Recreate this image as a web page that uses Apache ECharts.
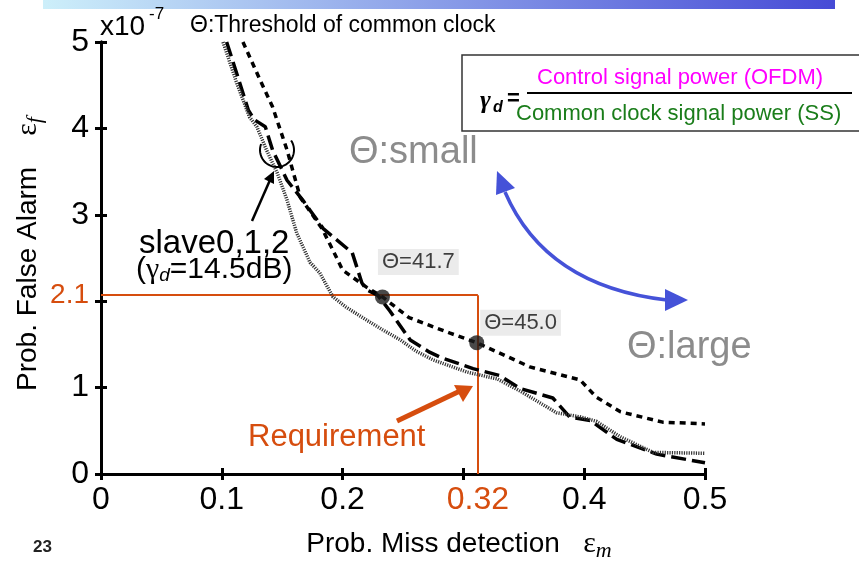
<!DOCTYPE html>
<html>
<head>
<meta charset="utf-8">
<script src="https://cdn.jsdelivr.net/npm/echarts@6/dist/echarts.min.js"></script>
<style>
html,body{margin:0;padding:0;background:#fff;}
#chart{width:859px;height:561px;}
</style>
</head>
<body>
<div id="chart"></div>
<script>
// ---- data (x: miss-detection prob., y: false-alarm prob. x1e-7) ----
const xTickValues = [0, 0.1, 0.2, 0.3, 0.4, 0.5];
const xTickLabels = ['0', '0.1', '0.2', '', '0.4', '0.5'];
const yTickValues = [0, 1, 2, 3, 4, 5];
const yTickLabels = ['0', '1', '', '3', '4', '5'];

const shortDashCurve = [
  [0.1175,5.0],[0.1217,4.87],[0.132,4.55],[0.142,4.25],[0.154,3.75],[0.165,3.20],
  [0.183,2.84],[0.192,2.59],[0.200,2.36],[0.220,2.16],[0.233,2.05],[0.255,1.81],
  [0.272,1.72],[0.289,1.63],[0.311,1.52],[0.355,1.24],[0.3965,1.09],[0.41,0.89],
  [0.43,0.72],[0.465,0.60],[0.5,0.58]
];
const longDashCurve = [
  [0.104,5.0],[0.115,4.52],[0.122,4.21],[0.127,4.10],[0.136,4.02],[0.142,3.75],
  [0.154,3.40],[0.167,3.17],[0.184,2.84],[0.208,2.56],[0.216,2.21],[0.220,2.13],
  [0.229,2.07],[0.239,1.89],[0.256,1.55],[0.272,1.41],[0.281,1.35],[0.308,1.22],
  [0.330,1.14],[0.347,0.99],[0.374,0.88],[0.388,0.66],[0.405,0.62],[0.427,0.40],
  [0.460,0.23],[0.5,0.13]
];
const fineDotCurve = [
  [0.101,5.0],[0.1125,4.52],[0.123,4.13],[0.129,4.02],[0.137,3.75],[0.146,3.48],
  [0.154,3.17],[0.162,2.79],[0.173,2.45],[0.181,2.33],[0.192,2.05],[0.203,1.93],
  [0.220,1.78],[0.233,1.67],[0.248,1.55],[0.261,1.42],[0.275,1.32],[0.303,1.18],
  [0.328,1.10],[0.347,0.96],[0.377,0.71],[0.397,0.66],[0.41,0.61],[0.43,0.43],
  [0.457,0.25],[0.5,0.24]
];
const thetaPoints = [[0.233, 2.05], [0.311, 1.52]];
const thetaLabels = ['\u0398=41.7', '\u0398=45.0'];
const reqX = 0.312, reqY = 2.07;
const reqXLabel = '0.32', reqYLabel = '2.1';

// ---- chart ----
const FONT = "'Liberation Sans', Arial, sans-serif";
const ORANGE = '#d64d0e';
const chart = echarts.init(document.getElementById('chart'), null, {renderer: 'canvas'});

const axisLineStyle = {lineStyle: {color: '#000', width: 3}};
const axisTickStyle = {inside: true, length: 6, lineStyle: {color: '#000', width: 3}};

// bracket arc around the three curves (annotation)
const bracketPts = [];
for (let a = -0.6; a <= 3.55; a += 0.1) {
  bracketPts.push([277 + 17 * Math.cos(a), 150 + 17 * Math.sin(a)]);
}

const option = {
  animation: false,
  backgroundColor: '#fff',
  grid: {left: 101, right: 154, top: 42, bottom: 87, outerBoundsMode: 'none', containLabel: false},
  xAxis: [{
    type: 'value', min: 0, max: 0.5, interval: 0.1, position: 'bottom',
    axisLine: axisLineStyle, axisTick: axisTickStyle, splitLine: {show: false},
    axisLabel: {
      color: '#000', fontFamily: FONT, fontSize: 32, margin: 10,
      formatter: v => xTickLabels[xTickValues.findIndex(t => Math.abs(t - v) < 1e-6)] || ''
    },
    name: 'Prob. Miss detection   {e|\u03b5}{m|m}',
    nameLocation: 'middle', nameGap: 52,
    nameTextStyle: {
      color: '#000', fontFamily: FONT, fontSize: 28, padding: [0, 0, 0, 112],
      rich: {
        e: {fontFamily: "'Liberation Serif', serif", fontSize: 30, color: '#000'},
        m: {fontFamily: "'Liberation Serif', serif", fontStyle: 'italic', fontSize: 22, color: '#000', padding: [14, 0, 0, 0]}
      }
    }
  }, {
    type: 'value', min: 0, max: 0.5, interval: 0.1, position: 'top',
    axisLine: axisLineStyle, axisTick: axisTickStyle, axisLabel: {show: false}, splitLine: {show: false}
  }],
  yAxis: [{
    type: 'value', min: 0, max: 5, interval: 1, position: 'left',
    axisLine: axisLineStyle, axisTick: axisTickStyle, splitLine: {show: false},
    axisLabel: {
      color: '#000', fontFamily: FONT, fontSize: 32, margin: 12, padding: [6, 0, 0, 0],
      formatter: v => yTickLabels[yTickValues.findIndex(t => Math.abs(t - v) < 1e-6)] || ''
    },
    name: 'Prob. False Alarm    {e|\u03b5}{f|f}',
    nameLocation: 'middle', nameGap: 55, nameRotate: 90,
    nameTextStyle: {
      color: '#000', fontFamily: FONT, fontSize: 28, padding: [0, 0, 0, 8],
      rich: {
        e: {fontFamily: "'Liberation Serif', serif", fontSize: 30, color: '#000'},
        f: {fontFamily: "'Liberation Serif', serif", fontStyle: 'italic', fontSize: 22, color: '#000', padding: [14, 0, 0, 0]}
      }
    }
  }, {
    type: 'value', min: 0, max: 5, interval: 1, position: 'right',
    axisLine: axisLineStyle, axisTick: axisTickStyle, axisLabel: {show: false}, splitLine: {show: false}
  }],
  series: [
    {
      name: 'slave (short dash)', type: 'line', data: shortDashCurve, showSymbol: false,
      lineStyle: {color: '#000', width: 3.5, type: [6, 5]}, z: 3
    },
    {
      name: 'slave (long dash)', type: 'line', data: longDashCurve, showSymbol: false,
      lineStyle: {color: '#000', width: 3.5, type: [15, 6]}, z: 3
    },
    {
      name: 'slave (dotted)', type: 'line', data: fineDotCurve, showSymbol: false,
      lineStyle: {color: '#333', width: 3.5, type: [1.2, 1.2]}, z: 3
    },
    {
      name: 'threshold points', type: 'scatter', data: thetaPoints, symbolSize: 15,
      itemStyle: {color: '#1c1c1c'}, z: 5,
      label: {
        show: true, position: 'right', distance: 0,
        formatter: p => thetaLabels[p.dataIndex],
        fontFamily: FONT, fontSize: 22, color: '#111', backgroundColor: '#e6e6e6',
        padding: [3, 4, 1, 4]
      },
      labelLayout: function (params) {
        return params.dataIndex === 0 ? {dx: -12, dy: -35} : {dx: -4, dy: -20};
      },
      markLine: {
        silent: true, symbol: 'none', animation: false, z: 1,
        lineStyle: {color: ORANGE, width: 2, type: 'solid'},
        data: [
          [{coord: [0, reqY], label: {show: true, position: 'start', formatter: reqYLabel, color: ORANGE, fontFamily: FONT, fontSize: 28, distance: 12}},
           {coord: [reqX, reqY]}],
          [{coord: [reqX, reqY], label: {show: true, position: 'end', formatter: reqXLabel, color: ORANGE, fontFamily: FONT, fontSize: 32, distance: 10}},
           {coord: [reqX, 0]}]
        ]
      }
    }
  ],
  graphic: [
    {type: 'rect', z: 100, shape: {x: 43, y: 0, width: 792, height: 9},
     style: {fill: new echarts.graphic.LinearGradient(0, 0, 1, 0, [{offset: 0, color: '#cdeffa'}, {offset: 1, color: '#464bd6'}])}},
    {type: 'text', z: 100, left: 100, top: 13, style: {text: 'x10', font: "28px 'Liberation Sans', Arial", fill: '#000'}},
    {type: 'text', z: 100, left: 149, top: 6, style: {text: '-7', font: "17px 'Liberation Sans', Arial", fill: '#000'}},
    {type: 'text', z: 100, left: 190, top: 14, style: {text: '\u0398:Threshold of common clock', font: "23px 'Liberation Sans', Arial", fill: '#000'}},
    // equation box
    {type: 'rect', z: 100, shape: {x: 462, y: 55, width: 420, height: 76},
     style: {fill: '#fff', stroke: '#333', lineWidth: 1.5}},
    {type: 'text', z: 101, left: 480, top: 88, style: {text: '\u03b3', font: "italic bold 26px 'Liberation Serif', serif", fill: '#000'}},
    {type: 'text', z: 101, left: 493, top: 100, style: {text: 'd', font: "italic bold 16px 'Liberation Sans', Arial", fill: '#000'}},
    {type: 'text', z: 101, left: 507, top: 88, style: {text: '=', font: "bold 22px 'Liberation Sans', Arial", fill: '#000'}},
    {type: 'line', z: 101, shape: {x1: 527, y1: 93, x2: 852, y2: 93}, style: {stroke: '#000', lineWidth: 2}},
    {type: 'text', z: 101, left: 537, top: 67, style: {text: 'Control signal power (OFDM)', font: "22px 'Liberation Sans', Arial", fill: '#ff00ff'}},
    {type: 'text', z: 101, left: 516, top: 103, style: {text: 'Common clock signal power (SS)', font: "22px 'Liberation Sans', Arial", fill: '#1a7d1a'}},
    // theta small / large
    {type: 'text', z: 100, left: 349, top: 134, style: {text: '\u0398:small', font: "38px 'Liberation Sans', Arial", fill: '#8c8c8c'}},
    {type: 'rect', z: 100, shape: {x: 622, y: 318, width: 140, height: 55}, style: {fill: '#fff'}},
    {type: 'text', z: 101, left: 627, top: 329, style: {text: '\u0398:large', font: "38px 'Liberation Sans', Arial", fill: '#8c8c8c'}},
    // blue double arrow
    {type: 'bezierCurve', z: 100, shape: {x1: 505, y1: 192, cpx1: 530, cpy1: 250, cpx2: 580, cpy2: 290, x2: 667, y2: 300},
     style: {stroke: '#4552d8', lineWidth: 3.5, fill: null}},
    {type: 'polygon', z: 100, shape: {points: [[497, 171], [515, 188], [496, 195]]}, style: {fill: '#4552d8'}},
    {type: 'polygon', z: 100, shape: {points: [[688, 300], [665, 289], [665, 311]]}, style: {fill: '#4552d8'}},
    // slave annotation
    {type: 'polyline', z: 100, shape: {points: bracketPts}, style: {stroke: '#000', lineWidth: 2, fill: null}},
    {type: 'line', z: 100, shape: {x1: 252, y1: 221, x2: 270, y2: 180}, style: {stroke: '#000', lineWidth: 2.5}},
    {type: 'polygon', z: 100, shape: {points: [[274, 171], [274, 184], [264, 179]]}, style: {fill: '#000'}},
    {type: 'text', z: 100, left: 139, top: 227, style: {text: 'slave0,1,2', font: "33px 'Liberation Sans', Arial", fill: '#000'}},
    {type: 'text', z: 100, left: 136, top: 255, style: {
      text: '({g|\u03b3}{d|d}=14.5dB)', font: "30px 'Liberation Sans', Arial", fill: '#000',
      rich: {g: {font: "30px 'Liberation Serif', serif", fill: '#000'}, d: {font: "italic 19px 'Liberation Sans', Arial", fill: '#000', padding: [12, 0, 0, 0]}}
    }},
    // requirement
    {type: 'text', z: 100, left: 248, top: 422, style: {text: 'Requirement', font: "31px 'Liberation Sans', Arial", fill: ORANGE}},
    {type: 'line', z: 100, shape: {x1: 397, y1: 421, x2: 460, y2: 391}, style: {stroke: ORANGE, lineWidth: 5}},
    {type: 'polygon', z: 100, shape: {points: [[473, 386], [454, 385], [463, 402]]}, style: {fill: ORANGE}},
    // page number
    {type: 'text', z: 100, left: 33, top: 539, style: {text: '23', font: "bold 17px 'Liberation Sans', Arial", fill: '#222'}}
  ]
};
chart.setOption(option);
</script>
</body>
</html>
